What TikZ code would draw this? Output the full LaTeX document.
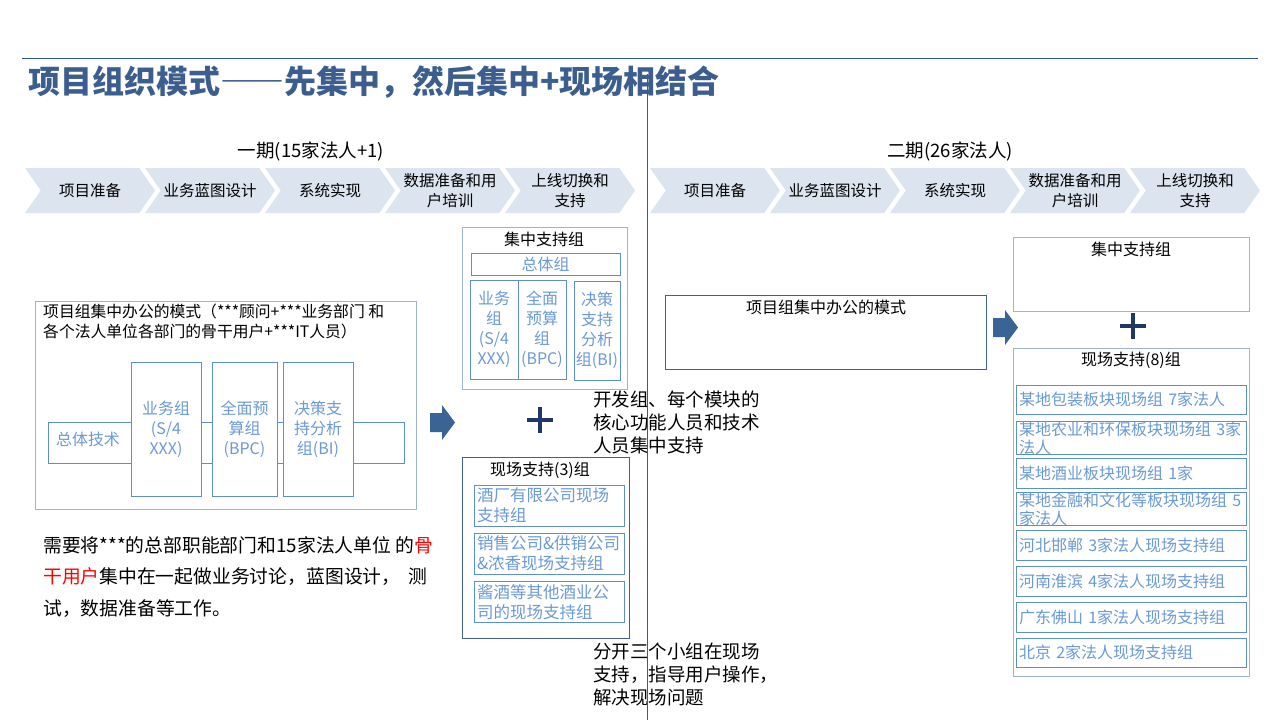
\documentclass[tikz,border=0pt]{standalone}
\usepackage{fontspec}
\setmainfont{Noto Sans CJK SC}
\usepackage{tikz}
\usetikzlibrary{shapes.symbols}
\definecolor{tcol}{HTML}{3B5E8E}
\definecolor{lcol}{HTML}{2F5C9E}
\definecolor{ccol}{HTML}{DCE4EF}
\definecolor{gcol}{HTML}{9FB4D3}
\definecolor{bcol}{HTML}{5B8FD0}
\definecolor{dcol}{HTML}{3F5F93}
\definecolor{xcol}{HTML}{6A9AD6}
\definecolor{acol}{HTML}{3A6396}
\definecolor{pcol}{HTML}{1F3864}

\begin{document}
\begin{tikzpicture}[x=1pt, y=-1pt,
  phase/.style={signal, signal to=east, signal from=west, signal pointer angle=110,
    fill=ccol, minimum width=130pt, minimum height=45pt, inner sep=0pt, align=center,
    font=\fontsize{15.5}{20}\selectfont},
  lbox/.style={draw=gcol, line width=0.8pt, inner sep=0pt},
  dbox/.style={draw=dcol, line width=0.9pt, inner sep=0pt},
  gbox/.style={draw=bcol, line width=0.9pt, fill=white, inner sep=0pt, align=center,
    text=xcol, font=\fontsize{16}{20}\selectfont},
  sbox/.style={draw=bcol, line width=0.9pt, text=xcol, align=left, inner xsep=3pt,
    inner ysep=0pt, font=\fontsize{16.5}{20}\selectfont},
  rbox/.style={sbox, font=\fontsize{16}{18}\selectfont, text width=224pt},
  tbox/.style={font=\fontsize{16}{18}\selectfont, inner sep=0pt},
  note/.style={anchor=north west, align=left, inner sep=0pt}]
\useasboundingbox[fill=white] (0,0) rectangle (1280,720);
\draw[lcol, line width=1pt] (22,58) -- (1258,58);
\node[anchor=west, inner sep=0pt, text=tcol, font=\bfseries\fontsize{32}{38}\selectfont] (title) at (28,82) {项目组织模式{\addfontfeature{RawFeature=+fwid}——}先集中，然后集中+现场相结合};
% phase bars
\node[font=\fontsize{18.5}{20}\selectfont] (ph1) at (311,151) {一期(15家法人+1)};
\node[phase] (a1) at (90,190.5) {项目准备};
\node[phase] (a2) at (210,190.5) {业务蓝图设计};
\node[phase] (a3) at (330,190.5) {系统实现};
\node[phase] (a4) at (450,190.5) {数据准备和用\\户培训};
\node[phase] (a5) at (570,190.5) {上线切换和\\支持};
\node[font=\fontsize{18.5}{20}\selectfont] (ph2) at (950,151) {二期(26家法人)};
\node[phase] (b1) at (715,190.5) {项目准备};
\node[phase] (b2) at (835,190.5) {业务蓝图设计};
\node[phase] (b3) at (955,190.5) {系统实现};
\node[phase] (b4) at (1075,190.5) {数据准备和用\\户培训};
\node[phase] (b5) at (1195,190.5) {上线切换和\\支持};
% phase one, left part
\node[lbox, minimum width=381pt, minimum height=208pt] (mode) at (225.5,405) {};
\node[note, font=\fontsize{15.8}{20}\selectfont] (modet) at (43,304) {项目组集中办公的模式（***顾问+***业务部门 和\\各个法人单位各部门的骨干用户+***IT人员）};
\node[draw=bcol, line width=0.9pt, minimum width=356pt, minimum height=41pt] (tech) at (226,442.5) {};
\node[text=xcol, font=\fontsize{16}{20}\selectfont] (techt) at (88,439) {总体技术};
\node[gbox, minimum width=70pt, minimum height=134pt] (ywz) at (166,429) {业务组\\(S/4\\XXX)};
\node[gbox, minimum width=65pt, minimum height=134pt] (qmys) at (244.5,429) {全面预\\算组\\(BPC)};
\node[gbox, minimum width=70pt, minimum height=134pt] (jczc) at (318,429) {决策支\\持分析\\组(BI)};
\node[note, font=\fontsize{18.8}{31.5}\selectfont] (need) at (43,536) {需要将***的总部职能部门和15家法人单位 的\textcolor{red}{骨}\\\textcolor{red}{干用户}集中在一起做业务讨论，蓝图设计，\ \ 测\\试，数据准备等工作。};
\fill[acol] (430,413) -- (442,413) -- (442,405) -- (455,422.5) -- (442,440) -- (442,432) -- (430,432) -- cycle;
% phase one, support groups
\node[lbox, minimum width=165pt, minimum height=162pt] (czzc) at (544.5,308) {};
\node[tbox] (czzct) at (544,239) {集中支持组};
\node[gbox, minimum width=149pt, minimum height=22pt] (zt) at (545.5,264) {总体组};
\node[gbox, minimum width=48pt, minimum height=99pt] (yw2) at (494,329.5) {业务\\组\\(S/4\\XXX)};
\node[gbox, minimum width=48pt, minimum height=99pt] (qm2) at (542,329.5) {全面\\预算\\组\\(BPC)};
\node[gbox, minimum width=46pt, minimum height=99pt] (jc2) at (597,330.5) {决策\\支持\\分析\\组(BI)};
\draw[pcol, line width=3.5pt] (527,420) -- (553,420) (540,407) -- (540,433);
\node[note, font=\fontsize{18.5}{23}\selectfont] (kfz) at (593,391) {开发组、每个模块的\\核心功能人员和技术\\人员集中支持};
\node[dbox, minimum width=167pt, minimum height=181pt] (xc3) at (545.5,547.5) {};
\node[tbox] (xc3t) at (540,470) {现场支持(3)组};
\node[sbox, text width=144pt, minimum height=41pt] (s1) at (549,505.5) {酒厂有限公司现场\\支持组};
\node[sbox, text width=144pt, minimum height=41pt] (s2) at (549,553.5) {销售公司\&供销公司\\\&浓香现场支持组};
\node[sbox, text width=144pt, minimum height=41pt] (s3) at (549,602) {酱酒等其他酒业公\\司的现场支持组};
\node[note, font=\fontsize{18.5}{23}\selectfont] (fk) at (593,643) {分开三个小组在现场\\支持，指导用户操作，\\解决现场问题};
% phase two
\node[dbox, minimum width=321pt, minimum height=74pt] (mode2) at (825.5,332) {};
\node[tbox] (mode2t) at (826,307) {项目组集中办公的模式};
\fill[acol] (993,318) -- (1005,318) -- (1005,310) -- (1018,327.5) -- (1005,345) -- (1005,337) -- (993,337) -- cycle;
\node[lbox, minimum width=236pt, minimum height=74pt] (czzc2) at (1131,274) {};
\node[tbox] (czzc2t) at (1131,249) {集中支持组};
\draw[pcol, line width=3.5pt] (1120,326) -- (1146,326) (1133,313) -- (1133,339);
\node[lbox, minimum width=236pt, minimum height=328pt] (xc8) at (1131,512) {};
\node[tbox] (xc8t) at (1131,360) {现场支持(8)组};
\node[rbox, minimum height=29pt] (r1) at (1131,399.5) {某地包装板块现场组 7家法人};
\node[rbox, minimum height=32pt] (r2) at (1131,438) {\mbox{某地农业和环保板块现场组 3家}\\法人};
\node[rbox, minimum height=30pt] (r3) at (1131,473) {某地酒业板块现场组 1家};
\node[rbox, minimum height=30pt] (r4) at (1131,509) {\mbox{某地金融和文化等板块现场组 5}\\家法人};
\node[rbox, minimum height=30pt] (r5) at (1131,545) {河北邯郸 3家法人现场支持组};
\node[rbox, minimum height=30pt] (r6) at (1131,581) {河南淮滨 4家法人现场支持组};
\node[rbox, minimum height=30pt] (r7) at (1131,617) {广东佛山 1家法人现场支持组};
\node[rbox, minimum height=29pt] (r8) at (1131,652.5) {北京 2家法人现场支持组};
\draw[lcol, line width=0.9pt] (647,74) -- (647,720);
\end{tikzpicture}
\end{document}
